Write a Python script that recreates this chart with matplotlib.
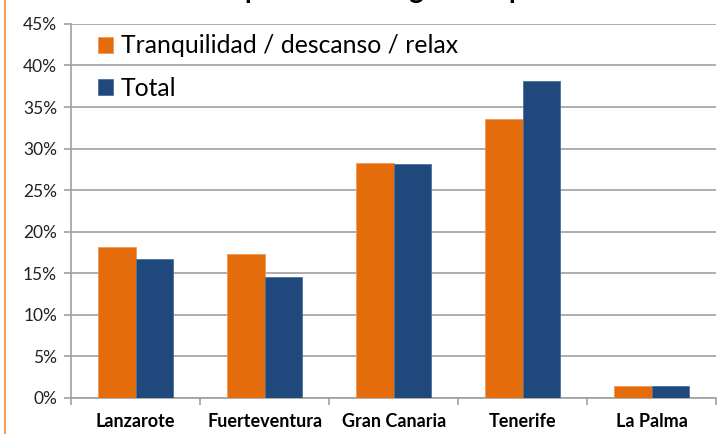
import matplotlib.pyplot as plt
import numpy as np

islas = ['Lanzarote', 'Fuerteventura', 'Gran Canaria', 'Tenerife', 'La Palma']
tranquilidad = [18.2, 17.3, 28.3, 33.5, 1.4]
total = [16.7, 14.5, 28.2, 38.1, 1.4]
yticks = [0, 5, 10, 15, 20, 25, 30, 35, 40, 45]

naranja = '#E46C0A'
azul = '#1F497D'
gris = '#A0A0A0'

plt.rcParams['font.family'] = ['Lato', 'DejaVu Sans']

fig = plt.figure(figsize=(7.17, 4.34), dpi=100)
ax = fig.add_axes([0.099, 0.083, 0.9, 0.862])

x = np.arange(len(islas))
w = 0.29
ax.bar(x - w / 2, tranquilidad, w, color=naranja, edgecolor='#EE9A5A', linewidth=0.6,
       label='Tranquilidad / descanso / relax', zorder=3)
ax.bar(x + w / 2, total, w, color=azul, edgecolor='#4F6F9A', linewidth=0.6,
       label='Total', zorder=3)

ax.set_xlim(-0.5, len(islas) - 0.5)
ax.set_ylim(0, 45)
ax.set_yticks(yticks)
ax.set_yticklabels(['%d%%' % v for v in yticks], fontsize=12.5, color='#222222')
ax.set_xticks(x)
ax.set_xticklabels(islas, fontsize=13, fontweight='bold')
ax.set_xticks(np.arange(len(islas) + 1) - 0.5, minor=True)
ax.tick_params(axis='x', which='major', length=0, pad=11)
ax.tick_params(axis='x', which='minor', length=5, color=gris, width=1.2)
ax.tick_params(axis='y', length=5, color=gris, width=1.2, pad=5)

ax.grid(axis='y', color=gris, linewidth=1.2, zorder=0)
for s in ['top', 'right']:
    ax.spines[s].set_visible(False)
for s in ['left', 'bottom']:
    ax.spines[s].set_color(gris)
    ax.spines[s].set_linewidth(1.2)

ax.legend(loc='upper left', bbox_to_anchor=(0.042, 0.972), frameon=False, fontsize=17.8,
          handlelength=0.62, handleheight=0.62, handletextpad=0.3, labelspacing=0.8,
          borderaxespad=0, borderpad=0)

# titulo recortado por el borde superior
fig.text(0.555, 1.005, 'Principal motivo según isla preferida', ha='center', va='baseline',
         fontsize=20, fontweight='bold')

# borde naranja del contenedor
fig.add_artist(plt.Line2D([0.007, 0.007], [0, 1], color='#F0A060', linewidth=1.5,
                          transform=fig.transFigure))

fig.savefig('out.png', dpi=100)
